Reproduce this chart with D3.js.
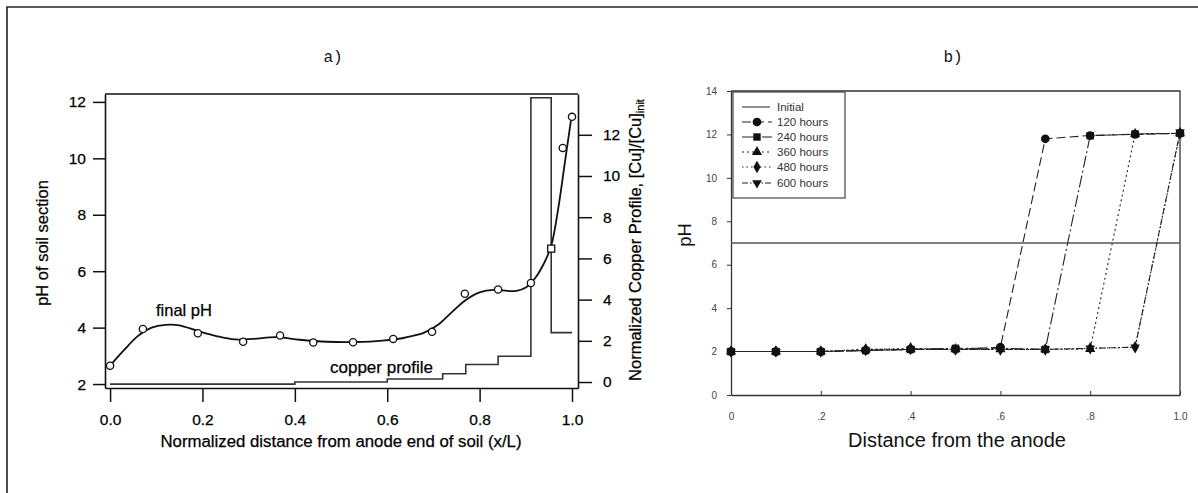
<!DOCTYPE html>
<html><head><meta charset="utf-8">
<script src="https://cdn.jsdelivr.net/npm/d3@7"></script>
<style>
body{margin:0;background:#fff}
svg{display:block}
text{font-family:"Liberation Sans",Arial,Helvetica,sans-serif}
</style>
</head><body>
<svg id="c" width="1198" height="493"></svg>
<script>
// ---------- Panel a data ----------
const phX = [0.0, 0.071, 0.19, 0.288, 0.368, 0.44, 0.526, 0.613, 0.697, 0.768, 0.84, 0.911, 0.955, 0.98, 1.0];
const phY = [2.65, 3.95, 3.8, 3.5, 3.72, 3.47, 3.48, 3.6, 3.85, 5.2, 5.35, 5.58, 6.8, 10.37, 11.47];
const phMarker = ["o","o","o","o","o","o","o","o","o","o","o","o","s","o","o"];
const fitX = [0, 0.03, 0.06, 0.09, 0.12, 0.15, 0.19, 0.23, 0.27, 0.31, 0.36, 0.41, 0.47, 0.53, 0.59, 0.64, 0.68, 0.71, 0.74, 0.77, 0.8, 0.83, 0.86, 0.88, 0.9, 0.92, 0.94, 0.955, 0.97, 0.985, 1.0];
const fitY = [2.65, 3.2, 3.7, 4.0, 4.1, 4.08, 3.88, 3.7, 3.58, 3.6, 3.66, 3.57, 3.5, 3.49, 3.54, 3.65, 3.82, 4.1, 4.55, 4.98, 5.25, 5.34, 5.3, 5.3, 5.42, 5.75, 6.3, 6.9, 8.2, 9.9, 11.6];
const cuEdges = [0, 0.4, 0.6, 0.72, 0.77, 0.84, 0.911, 0.955, 1.0];
const cuVals = [-0.1, 0.0, 0.15, 0.4, 0.85, 1.25, 13.8, 2.4];
const aXTicks = [0.0, 0.2, 0.4, 0.6, 0.8, 1.0];
const aYTicks = [2, 4, 6, 8, 10, 12];
const aY2Ticks = [0, 2, 4, 6, 8, 10, 12];

// ---------- Panel b data ----------
const bX = [0, 0.1, 0.2, 0.3, 0.4, 0.5, 0.6, 0.7, 0.8, 0.9, 1.0];
const initialPH = 7.0;
const seriesNames = ["120 hours", "240 hours", "360 hours", "480 hours", "600 hours"];
const h120 = [2.0, 2.0, 2.0, 2.05, 2.1, 2.1, 2.2, 11.8, 11.95, 12.0, 12.05];
const h240 = [2.0, 2.0, 2.0, 2.05, 2.1, 2.15, 2.15, 2.1, 11.94, 12.02, 12.05];
const h360 = [2.0, 2.0, 2.0, 2.1, 2.1, 2.1, 2.1, 2.1, 2.12, 12.03, 12.05];
const h480 = [2.0, 2.0, 2.0, 2.1, 2.15, 2.1, 2.1, 2.1, 2.15, 2.2, 12.05];
const h600 = [2.0, 2.0, 2.0, 2.05, 2.1, 2.1, 2.1, 2.1, 2.15, 2.2, 12.1];
const bXTicks = [0, 0.2, 0.4, 0.6, 0.8, 1.0];
const bXTickLabels = ["0", ".2", ".4", ".6", ".8", "1.0"];
const bYTicks = [0, 2, 4, 6, 8, 10, 12, 14];

const svg = d3.select("#c");
svg.append("rect").attr("width",1198).attr("height",493).attr("fill","#fff");

// figure border
svg.append("path").attr("d","M7,493 L7,7 L1198,7").attr("fill","none").attr("stroke","#222").attr("stroke-width",1.6);

// ================= Panel a =================
const ax = d3.scaleLinear().domain([-0.011, 1.013]).range([105, 578]);
const ay = d3.scaleLinear().domain([1.86, 12.28]).range([388, 94]);
const ay2 = d3.scaleLinear().domain([-0.29, 13.98]).range([388, 94]);

const ga = svg.append("g");
function styleAxis(g, fs){
  g.select(".domain").attr("stroke","#111").attr("stroke-width",1.6);
  g.selectAll(".tick line").attr("stroke","#111").attr("stroke-width",1.5);
  g.selectAll(".tick text").attr("fill","#000").attr("stroke","#000").attr("stroke-width",0.25)
    .style("font-size",fs+"px").style("font-family","'Liberation Sans',Arial,sans-serif");
}
const axB = ga.append("g").attr("transform","translate(0,388)")
  .call(d3.axisBottom(ax).tickValues(aXTicks).tickFormat(d3.format(".1f")).tickSize(14).tickPadding(12).tickSizeOuter(0));
styleAxis(axB, 15.5);
const axL = ga.append("g").attr("transform","translate(105,0)")
  .call(d3.axisLeft(ay).tickValues(aYTicks).tickSize(12).tickPadding(7).tickSizeOuter(0));
styleAxis(axL, 15.5);
const axR = ga.append("g").attr("transform","translate(578,0)")
  .call(d3.axisRight(ay2).tickValues(aY2Ticks).tickSize(14).tickPadding(11).tickSizeOuter(0));
styleAxis(axR, 15.5);
ga.append("line").attr("x1",105).attr("x2",578).attr("y1",94).attr("y2",94).attr("stroke","#111").attr("stroke-width",1.6);

// copper profile (step)
const cuPts = cuVals.map((v,i)=>[cuEdges[i], v]);
cuPts.push([cuEdges[cuEdges.length-1], cuVals[cuVals.length-1]]);
ga.append("path")
  .attr("d", d3.line().x(d=>ax(d[0])).y(d=>ay2(d[1])).curve(d3.curveStepAfter)(cuPts))
  .attr("fill","none").attr("stroke","#333").attr("stroke-width",1.6);

// fitted pH curve
const fitPts = fitX.map((x,i)=>[x, fitY[i]]);
ga.append("path")
  .attr("d", d3.line().x(d=>ax(d[0])).y(d=>ay(d[1])).curve(d3.curveCatmullRom.alpha(0.5))(fitPts))
  .attr("fill","none").attr("stroke","#111").attr("stroke-width",1.8);

// pH markers
phX.forEach((x,i)=>{
  const cx = ax(x), cy = ay(phY[i]);
  if (phMarker[i] === "s") {
    ga.append("rect").attr("x",cx-3.5).attr("y",cy-3.5).attr("width",7).attr("height",7)
      .attr("fill","#fff").attr("stroke","#111").attr("stroke-width",1.3);
  } else {
    ga.append("circle").attr("cx",cx).attr("cy",cy).attr("r",3.6)
      .attr("fill","#fff").attr("stroke","#111").attr("stroke-width",1.3);
  }
});

function heavy(sel){ return sel.attr("fill","#000").attr("stroke","#000").attr("stroke-width",0.25); }
heavy(ga.append("text").attr("x",156).attr("y",316).attr("font-size",16.5).text("final pH"));
heavy(ga.append("text").attr("x",330).attr("y",373).attr("font-size",17).text("copper profile"));

ga.append("text").attr("x",333).attr("y",62).attr("text-anchor","middle")
  .style("font-family","'Liberation Mono','DejaVu Sans Mono',monospace").attr("font-size",16).attr("fill","#111").text("a)");
heavy(ga.append("text").attr("x",341).attr("y",447).attr("text-anchor","middle").attr("font-size",16.8)
  .text("Normalized distance from anode end of soil (x/L)"));
heavy(ga.append("text").attr("transform","translate(48,243) rotate(-90)").attr("text-anchor","middle").attr("font-size",16.5)
  .text("pH of soil section"));
const rt = heavy(ga.append("text").attr("transform","translate(641,240) rotate(-90)").attr("text-anchor","middle").attr("font-size",16.5));
rt.append("tspan").text("Normalized Copper Profile, [Cu]/[Cu]");
rt.append("tspan").attr("font-size",11).attr("dy",3).text("init");

// ================= Panel b =================
const bx = d3.scaleLinear().domain([0, 1]).range([731, 1180]);
const by = d3.scaleLinear().domain([0, 14]).range([395, 91]);
const gb = svg.append("g");

function styleAxisB(g){
  g.select(".domain").attr("stroke","#333").attr("stroke-width",1.3);
  g.selectAll(".tick line").attr("stroke","#333").attr("stroke-width",1);
  g.selectAll(".tick text").attr("fill","#444").style("font-size","10px").style("font-family","'Liberation Sans',Arial,sans-serif");
}
const bB = gb.append("g").attr("transform","translate(0,395)")
  .call(d3.axisBottom(bx).tickValues(bXTicks).tickFormat((d,i)=>bXTickLabels[i]).tickSize(-4).tickPadding(18).tickSizeOuter(0));
styleAxisB(bB);
const bL = gb.append("g").attr("transform","translate(731,0)")
  .call(d3.axisLeft(by).tickValues(bYTicks).tickSize(4).tickPadding(10).tickSizeOuter(0));
styleAxisB(bL);
gb.append("path").attr("d",`M731,${by(14)} L${bx(1)},${by(14)} L${bx(1)},395`).attr("fill","none").attr("stroke","#333").attr("stroke-width",1.3);

// initial line
gb.append("line").attr("x1",bx(0)).attr("x2",bx(1)).attr("y1",by(initialPH)).attr("y2",by(initialPH))
  .attr("stroke","#555").attr("stroke-width",1.5);

const seriesData = [h120, h240, h360, h480, h600];
const dashes = ["9,4", "12,3,2,3", "2,3", "1.5,3", "6,2,1.5,2"];
const symbols = [d3.symbolCircle, d3.symbolSquare, d3.symbolTriangle, d3.symbolDiamond, d3.symbolTriangle];
const symSizes = [60, 55, 45, 45, 40];
const symRot = [0,0,0,0,180];
const lineB = d3.line().x((d,i)=>bx(bX[i])).y(d=>by(d));
seriesData.forEach((s,k)=>{
  gb.append("path").attr("d", lineB(s)).attr("fill","none").attr("stroke","#222")
    .attr("stroke-width",1.1).attr("stroke-dasharray",dashes[k]);
});
seriesData.forEach((s,k)=>{
  s.forEach((v,i)=>{
    gb.append("path").attr("d", d3.symbol().type(symbols[k]).size(symSizes[k])())
      .attr("transform",`translate(${bx(bX[i])},${by(v)}) rotate(${symRot[k]})`)
      .attr("fill","#111");
  });
});

// legend
const lg = gb.append("g");
lg.append("rect").attr("x",733).attr("y",92).attr("width",112).attr("height",106)
  .attr("fill","#fff").attr("stroke","#444").attr("stroke-width",1.2);
const rowY = [107, 122, 137, 152, 167, 183];
lg.append("line").attr("x1",742).attr("x2",770).attr("y1",rowY[0]).attr("y2",rowY[0]).attr("stroke","#555").attr("stroke-width",1.3);
lg.append("text").attr("x",777).attr("y",rowY[0]+4).attr("font-size",11.5).attr("fill","#333").text("Initial");
seriesNames.forEach((n,k)=>{
  const y = rowY[k+1];
  lg.append("line").attr("x1",742).attr("x2",772).attr("y1",y).attr("y2",y).attr("stroke","#222")
    .attr("stroke-width",1.1).attr("stroke-dasharray",dashes[k]);
  lg.append("path").attr("d", d3.symbol().type(symbols[k]).size(symSizes[k])())
    .attr("transform",`translate(757,${y}) rotate(${symRot[k]})`).attr("fill","#111");
  lg.append("text").attr("x",777).attr("y",y+4).attr("font-size",11.5).attr("fill","#333").text(n);
});

gb.append("text").attr("x",953).attr("y",62).attr("text-anchor","middle")
  .style("font-family","'Liberation Mono','DejaVu Sans Mono',monospace").attr("font-size",16).attr("fill","#111").text("b)");
gb.append("text").attr("x",957).attr("y",447).attr("text-anchor","middle").attr("font-size",20).attr("fill","#111")
  .text("Distance from the anode");
gb.append("text").attr("transform","translate(691,235) rotate(-90)").attr("text-anchor","middle").attr("font-size",18.5).attr("fill","#111")
  .text("pH");
</script>
</body></html>
